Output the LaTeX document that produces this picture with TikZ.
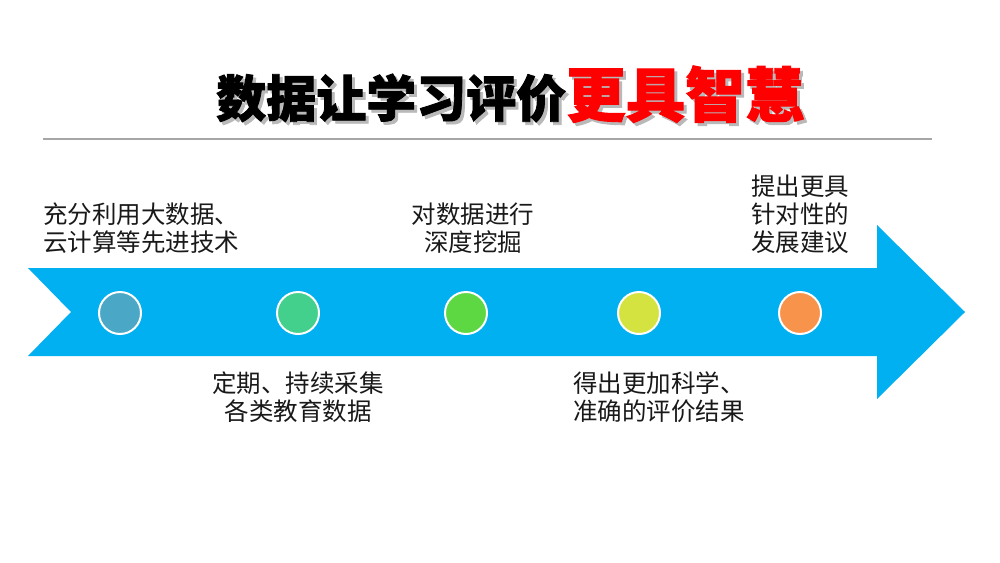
\documentclass[tikz,border=0pt]{standalone}
\usepackage{fontspec}
\setmainfont{Noto Sans CJK SC}
\newfontfamily\titlefont[BoldFeatures={FakeBold=1.6}]{Noto Sans CJK SC}
\usetikzlibrary{positioning}

\definecolor{arrowblue}{HTML}{00B0F0}
\definecolor{dotA}{HTML}{4BA7C6}
\definecolor{dotB}{HTML}{43CF8C}
\definecolor{dotC}{HTML}{5DD843}
\definecolor{dotD}{HTML}{D4E340}
\definecolor{dotE}{HTML}{F7934A}
\newcommand{\titlewords}{\fontsize{50}{50}\selectfont 数据让学习评价\textcolor{\redpart}{\fontsize{59.5}{60}\selectfont 更具智慧}}

\begin{document}
\begin{tikzpicture}[
		x=1pt,y=-1pt,
		dot/.style={circle,draw=white,line width=2pt,minimum size=42pt,inner sep=0pt},
		mylabel/.style={align=center,inner sep=0pt,font=\fontsize{24.5}{28}\selectfont,text=black!90},
		titletext/.style={anchor=base west,inner sep=0pt,font=\titlefont\bfseries}
		]
		\useasboundingbox[fill=white] (0,0) rectangle (1000,562);
		% title, with its shadow
		\node[titletext] (title) at (216,117)
			{\rlap{\kern3pt\raisebox{-3pt}{\color{gray!55}\def\redpart{gray!55}\titlewords}}\def\redpart{red}\titlewords};
		\coordinate (rulel) at (43,139);
		\coordinate (ruler) at (932,139);
		\draw[gray!70,line width=2pt] (rulel) -- (ruler);
		% arrow
		\fill[arrowblue] (28,268) -- (877,268) -- (877,225) -- (965,312)
			-- (877,399) -- (877,356) -- (28,356) -- (71,312) -- cycle;
		\node[dot,fill=dotA] (tech) at (120,313) {};
		\node[dot,fill=dotB] (collect) at (298,313) {};
		\node[dot,fill=dotC] (mine) at (466,313) {};
		\node[dot,fill=dotD] (result) at (639,313) {};
		\node[dot,fill=dotE] (advice) at (800,313) {};
		% texts
		\node[mylabel] (techtext) at (141,228) {充分利用大数据、\\云计算等先进技术};
		\node[mylabel] (collecttext) at (298,397) {定期、持续采集\\各类教育数据};
		\node[mylabel] (minetext) at (473,228) {对数据进行\\深度挖掘};
		\node[mylabel] (resulttext) at (659,397) {得出更加科学、\\准确的评价结果};
		\node[mylabel] (advicetext) at (800,214) {提出更具\\针对性的\\发展建议};
	\end{tikzpicture}
\end{document}
